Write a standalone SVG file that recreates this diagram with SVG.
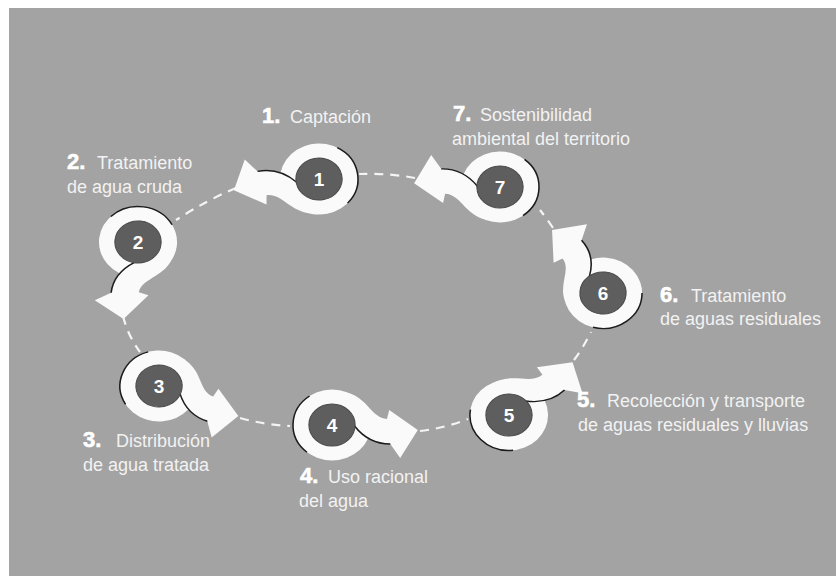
<svg xmlns="http://www.w3.org/2000/svg" xmlns:xlink="http://www.w3.org/1999/xlink" width="836" height="576" viewBox="0 0 836 576">
<style>
.bg{fill:#a3a3a3}
.white{fill:#fafafa}
.edge{fill:none;stroke:#1c1c1c;stroke-width:1.4}
.core{fill:#5e5e5e;stroke:#4a4a4a;stroke-width:1}
.num{font-family:"Liberation Sans",Arial,sans-serif;font-weight:bold;font-size:19px;fill:#fff;text-anchor:middle}
.lbl{font-family:"Liberation Sans",Arial,sans-serif;font-size:18px;fill:#f2f2f2}
.step{font-weight:bold;font-size:22px;fill:#fff;stroke:#fff;stroke-width:0.6}
.dash{fill:none;stroke:#f4f4f4;stroke-width:2.2;stroke-dasharray:9 7}
</style>
<defs>
<g id="shape">
<circle class="white" cx="0" cy="0" r="35.5"/>
<path class="white" d="M15,-32 C33,-26 36,-7 50,-6 L52,-15 L78,5 L62,33 L53,19 C39,19 29,13 21,2 Z"/>
<path class="edge" d="M-20.4,-29 A35.5 35.5 0 0 0 -22.8,27.2"/>
<path class="edge" d="M20.5,1 C29,13 39,19 53,19"/>
<circle class="core" cx="0" cy="0" r="21"/>
</g>
</defs>
<rect class="bg" x="9" y="8" width="827" height="568"/>
<g id="connectors">
<path class="dash" d="M236,188 Q207,200 176,220"/>
<path class="dash" d="M123,316 Q128,336 140,352"/>
<path class="dash" d="M240,418 Q265,425 290,426"/>
<path class="dash" d="M420,431 Q445,428 468,419"/>
<path class="dash" d="M574,360 Q583,348 591,332"/>
<path class="dash" d="M553,228 Q547,219 540,210"/>
<path class="dash" d="M415,178 Q388,173 359,174"/>
</g>
<g id="node1">
<use xlink:href="#shape" transform="translate(319,179) scale(1.1,1) rotate(168)"/>
<text class="num" x="319" y="186">1</text>
<text class="lbl" y="123"><tspan class="step" x="262">1.</tspan><tspan x="290">Captación</tspan></text>
</g>
<g id="node2">
<use xlink:href="#shape" transform="translate(138,242) scale(1.1,1) rotate(96)"/>
<text class="num" x="138" y="249">2</text>
<text class="lbl" y="169"><tspan class="step" x="67">2.</tspan><tspan x="97">Tratamiento</tspan></text>
<text class="lbl" x="67" y="193">de agua cruda</text>
</g>
<g id="node3">
<use xlink:href="#shape" transform="translate(159,386) scale(1.1,1) rotate(19)"/>
<text class="num" x="159" y="393">3</text>
<text class="lbl" y="447"><tspan class="step" x="83">3.</tspan><tspan x="116">Distribución</tspan></text>
<text class="lbl" x="83" y="471">de agua tratada</text>
</g>
<g id="node4">
<use xlink:href="#shape" transform="translate(332,425) scale(1.1,1)"/>
<text class="num" x="332" y="432">4</text>
<text class="lbl" y="483"><tspan class="step" x="300">4.</tspan><tspan x="328">Uso racional</tspan></text>
<text class="lbl" x="299" y="507">del agua</text>
</g>
<g id="node5">
<use xlink:href="#shape" transform="translate(509,415) scale(1.1,1) rotate(-46)"/>
<text class="num" x="509" y="422">5</text>
<text class="lbl" y="407"><tspan class="step" x="577">5.</tspan><tspan x="607">Recolección y transporte</tspan></text>
<text class="lbl" x="578" y="431">de aguas residuales y lluvias</text>
</g>
<g id="node6">
<use xlink:href="#shape" transform="translate(603,293) scale(1.1,1) rotate(-130)"/>
<text class="num" x="603" y="300">6</text>
<text class="lbl" y="302"><tspan class="step" x="660">6.</tspan><tspan x="691">Tratamiento</tspan></text>
<text class="lbl" x="660" y="325">de aguas residuales</text>
</g>
<g id="node7">
<use xlink:href="#shape" transform="translate(500,187) scale(1.1,1) rotate(179)"/>
<text class="num" x="500" y="194">7</text>
<text class="lbl" y="121"><tspan class="step" x="453">7.</tspan><tspan x="480">Sostenibilidad</tspan></text>
<text class="lbl" x="452" y="145">ambiental del territorio</text>
</g>
</svg>
